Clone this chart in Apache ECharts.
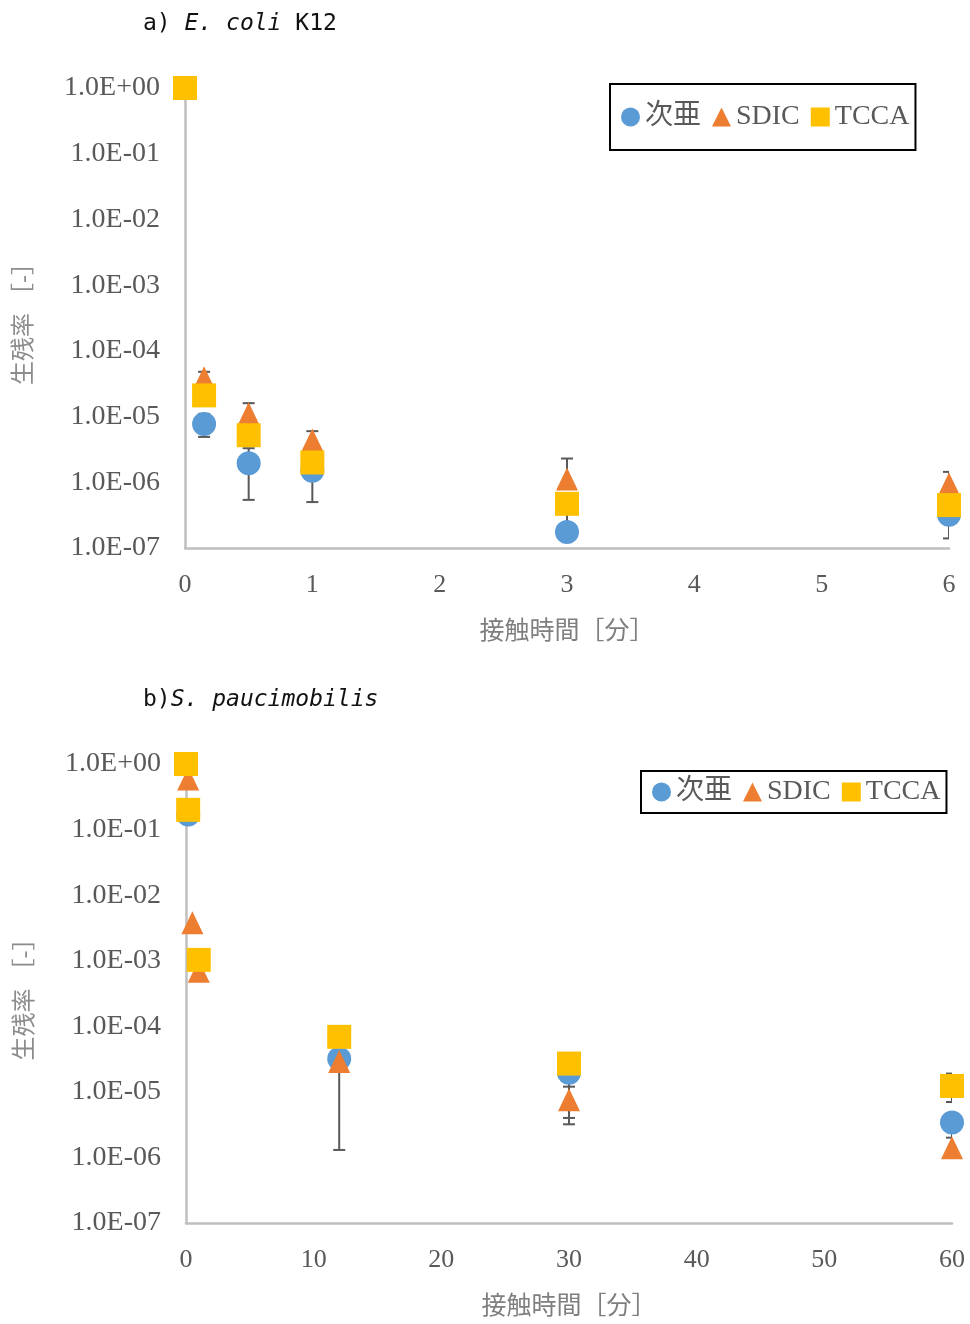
<!DOCTYPE html>
<html>
<head>
<meta charset="utf-8">
<script src="https://cdn.jsdelivr.net/npm/echarts@6/dist/echarts.min.js"></script>
<style>
  html, body { margin: 0; padding: 0; background: #fff; }
  #chart { width: 970px; height: 1324px; }
</style>
</head>
<body>
<div id="chart"></div>
<script>
///////////////////////////////////////////////////
// Data
///////////////////////////////////////////////////

var seriesNames = ['次亜', 'SDIC', 'TCCA'];

// a) E. coli K12, contact time [min]
var timeA = [0, 0.15, 0.5, 1, 3, 6];
var hypoA = [1, 7.7e-6, 1.95e-6, 1.5e-6, 1.75e-7, 3.2e-7];
var sdicA = [1, 3.9e-5, 1.1e-5, 4.4e-6, 1.12e-6, 9.4e-7];
var tccaA = [1, 2.1e-5, 5.2e-6, 2.0e-6, 4.7e-7, 4.5e-7];
// error bar ends (null = none visible)
var hypoAUp = [null, 1.1e-5, 3.3e-6, 2.0e-6, 4.2e-7, null];
var hypoALo = [null, 4.9e-6, 5.4e-7, 5.0e-7, null, 1.4e-7];
var sdicAUp = [null, 4.8e-5, 1.6e-5, 6.0e-6, 2.3e-6, 1.44e-6];

// b) S. paucimobilis
var timeB = [0, 0.17, 0.5, 1, 12, 30, 60];
var hypoB = [1, 0.17, null, null, 3.2e-5, 1.95e-5, 3.4e-6];
var sdicB = [1, 0.59, 3.8e-3, 6.9e-4, 2.9e-5, 7.6e-6, 1.4e-6];
var tccaB = [1, 0.2, null, 1.03e-3, 6.9e-5, 2.7e-5, 1.23e-5];
var hypoBLo = [null, null, null, null, 1.3e-6, 3.2e-6, 2.0e-6];
var sdicBLo = [null, null, null, null, null, 4.0e-6, 1.0e-6];
var tccaBLo = [null, null, null, null, null, 1.2e-5, 7.0e-6];
var tccaBUp = [null, null, null, null, null, null, 1.9e-5];

var colors = ['#5B9BD5', '#ED7D31', '#FFC000'];

///////////////////////////////////////////////////
// Helpers
///////////////////////////////////////////////////
var SERIF = "'Liberation Serif', 'Noto Sans CJK JP', serif";
var MONO = "'DejaVu Sans Mono', monospace";

function pairs(times, vals) {
  var out = [];
  times.forEach(function (t, i) {
    if (vals[i] != null) out.push([t, vals[i]]);
  });
  return out;
}

// each error bar: [time, point value, bar end]
function errs(times, vals, ends) {
  var out = [];
  times.forEach(function (t, i) {
    if (ends[i] != null && vals[i] != null) out.push([t, vals[i], ends[i]]);
  });
  return out;
}

function expLabel(v) {
  var e = Math.round(Math.log10(v));
  return '1.0E' + (e < 0 ? '-' : '+') + String(Math.abs(e)).padStart(2, '0');
}

function renderErr(params, api) {
  var p0 = api.coord([api.value(0), api.value(1)]);
  var p1 = api.coord([api.value(0), api.value(2)]);
  var w = 6;
  var st = { stroke: '#595959', lineWidth: 2 };
  return {
    type: 'group',
    children: [
      { type: 'line', shape: { x1: p0[0], y1: p0[1], x2: p1[0], y2: p1[1] }, style: st },
      { type: 'line', shape: { x1: p1[0] - w, y1: p1[1], x2: p1[0] + w, y2: p1[1] }, style: st }
    ]
  };
}

function xAxisFor(idx, max, interval) {
  return {
    gridIndex: idx, type: 'value', min: 0, max: max, interval: interval,
    axisLine: { lineStyle: { color: '#bfbfbf', width: 2.5 } },
    axisTick: { show: false }, splitLine: { show: false },
    axisLabel: { margin: 24, color: '#595959', fontFamily: SERIF, fontSize: 26 },
    name: '接触時間［分］', nameLocation: 'middle', nameGap: 72,
    nameTextStyle: { color: '#7f7f7f', fontFamily: SERIF, fontSize: 25 }
  };
}

function yAxisFor(idx) {
  return {
    gridIndex: idx, type: 'log', logBase: 10, min: 1e-7, max: 1, splitNumber: 7,
    axisLine: { show: true, lineStyle: { color: '#bfbfbf', width: 2.5 } },
    axisTick: { show: false }, splitLine: { show: false },
    axisLabel: { margin: 25, color: '#595959', fontFamily: SERIF, fontSize: 28, formatter: expLabel },
    name: '生残率 ［-］', nameLocation: 'middle', nameGap: 148,
    nameTextStyle: { color: '#8c8c8c', fontFamily: SERIF, fontSize: 24 }
  };
}

var symbols = ['circle', 'triangle', 'rect'];
var symbolSizes = [24, [22, 23], 24];

function scatterFor(idx, data) {
  return data.map(function (d, k) {
    return {
      name: seriesNames[k], type: 'scatter', xAxisIndex: idx, yAxisIndex: idx,
      symbol: symbols[k], symbolSize: symbolSizes[k], clip: false, z: 3,
      itemStyle: { color: colors[k], opacity: 1 },
      data: d
    };
  });
}

function legendFor(left, top, padV) {
  return {
    left: left, top: top, orient: 'horizontal',
    padding: [padV, 6, padV, 11], itemGap: 11, itemWidth: 19, itemHeight: 19,
    borderColor: '#000', borderWidth: 2,
    textStyle: { color: '#595959', fontFamily: SERIF, fontSize: 28 },
    data: seriesNames.map(function (n, k) { return { name: n, icon: symbols[k] }; })
  };
}

var titleRich = {
  n: { fontFamily: MONO, fontSize: 23, color: '#111', fontWeight: 'normal' },
  i: { fontFamily: MONO, fontSize: 23, color: '#111', fontWeight: 'normal', fontStyle: 'italic' }
};

///////////////////////////////////////////////////
// Chart
///////////////////////////////////////////////////
var myChart = echarts.init(document.getElementById('chart'), null, { renderer: 'canvas' });

var errA = [].concat(errs(timeA, hypoA, hypoAUp), errs(timeA, hypoA, hypoALo), errs(timeA, sdicA, sdicAUp));
var errB = [].concat(errs(timeB, hypoB, hypoBLo), errs(timeB, sdicB, sdicBLo),
  errs(timeB, tccaB, tccaBLo), errs(timeB, tccaB, tccaBUp));

myChart.setOption({
  backgroundColor: '#fff',
  animation: false,
  title: [
    { left: 138, top: 8, text: '{n|a) }{i|E. coli}{n| K12}', textStyle: { fontWeight: 'normal', rich: titleRich } },
    { left: 138, top: 684, text: '{n|b)}{i|S. paucimobilis}', textStyle: { fontWeight: 'normal', rich: titleRich } }
  ],
  legend: [legendFor(610, 84, 19), legendFor(641, 771, 7)],
  grid: [
    { left: 185, top: 88, width: 764, height: 460 },
    { left: 186, top: 764, width: 766, height: 459 }
  ],
  xAxis: [xAxisFor(0, 6, 1), xAxisFor(1, 60, 10)],
  yAxis: [yAxisFor(0), yAxisFor(1)],
  series: [
    { type: 'custom', xAxisIndex: 0, yAxisIndex: 0, renderItem: renderErr, clip: true, z: 1, data: errA },
    { type: 'custom', xAxisIndex: 1, yAxisIndex: 1, renderItem: renderErr, clip: true, z: 1, data: errB }
  ].concat(
    scatterFor(0, [pairs(timeA, hypoA), pairs(timeA, sdicA), pairs(timeA, tccaA)]),
    scatterFor(1, [pairs(timeB, hypoB), pairs(timeB, sdicB), pairs(timeB, tccaB)])
  )
});
</script>
</body>
</html>
